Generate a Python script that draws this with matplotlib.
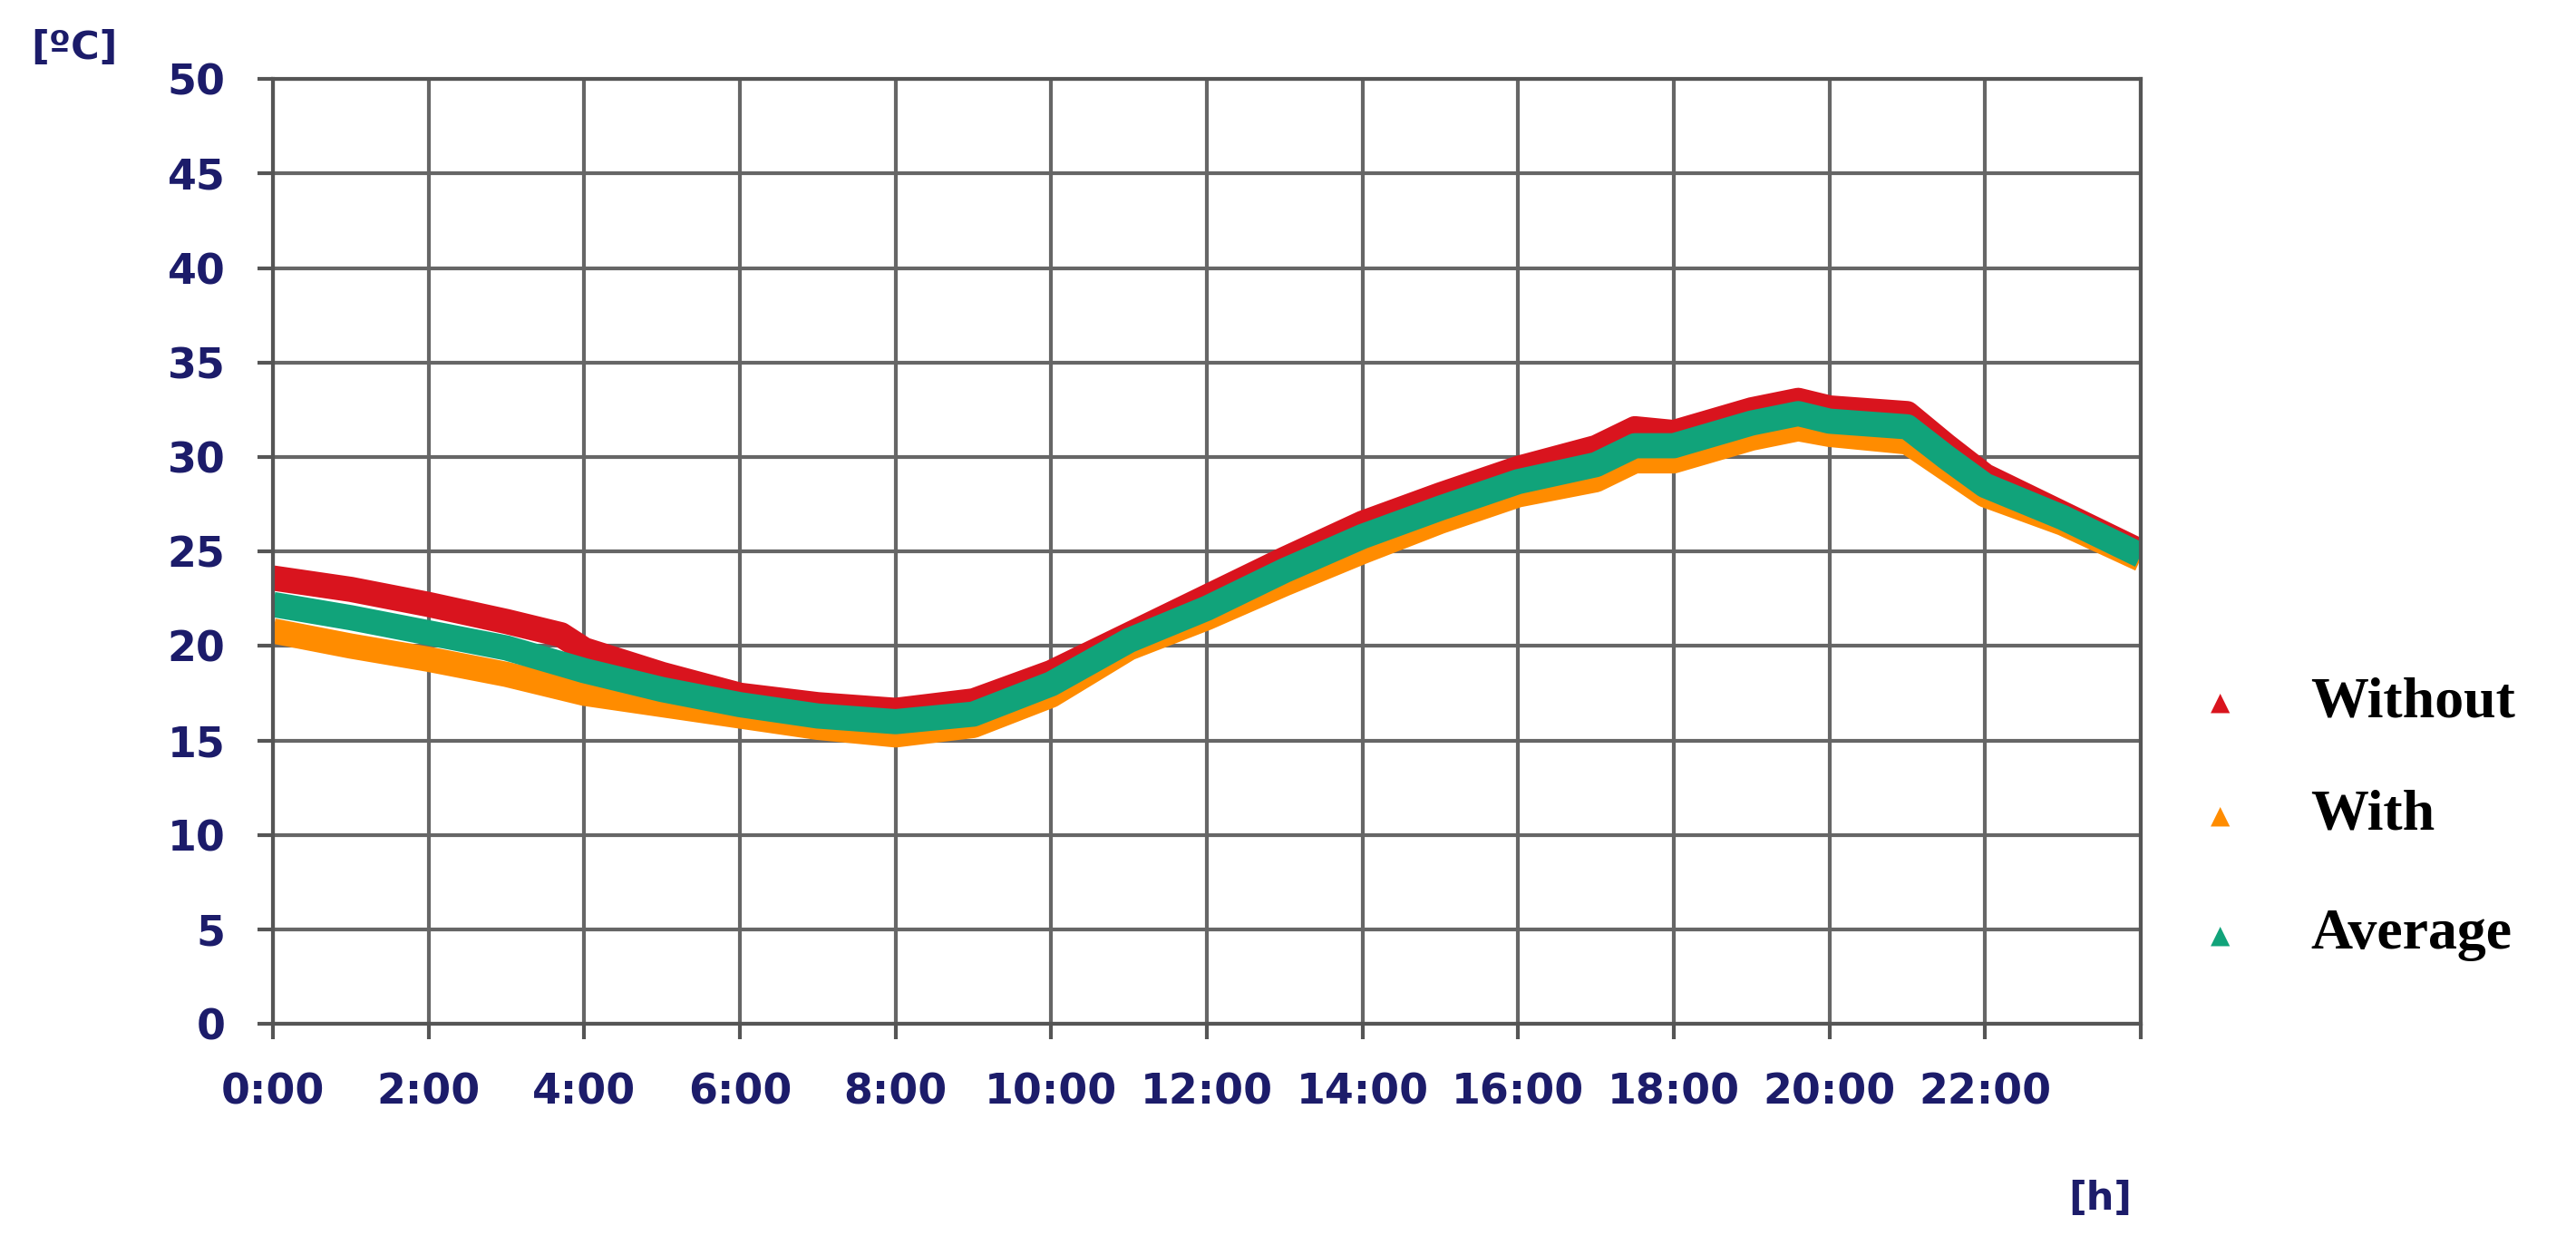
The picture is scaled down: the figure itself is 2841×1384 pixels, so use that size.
import matplotlib
matplotlib.use("Agg")
import matplotlib.pyplot as plt
import numpy as np

hours_without = [0, 1, 2, 3, 3.7, 4, 5, 6, 7, 8, 9, 10, 11, 12, 13, 14, 15, 16, 17, 17.5, 18, 19, 19.6, 20, 21, 21.5, 22, 23, 24]
temp_without = [23.6, 23.0, 22.2, 21.3, 20.6, 19.8, 18.5, 17.4, 16.9, 16.6, 17.1, 18.6, 20.6, 22.6, 24.6, 26.5, 28.0, 29.4, 30.5, 31.5, 31.3, 32.5, 33.0, 32.6, 32.3, 30.6, 29.0, 27.0, 25.0]
hours_with = [0, 1, 2, 3, 4, 5, 6, 7, 8, 9, 10, 11, 12, 13, 14, 15, 16, 17, 17.5, 18, 19, 19.6, 20, 21, 21.5, 22, 23, 24]
temp_with = [20.8, 20.0, 19.3, 18.5, 17.5, 16.9, 16.3, 15.7, 15.3, 15.8, 17.4, 19.9, 21.5, 23.3, 25.0, 26.6, 28.0, 28.8, 29.8, 29.8, 31.0, 31.5, 31.2, 30.8, 29.4, 28.0, 26.5, 24.6]
hours_avg = [0, 1, 2, 3, 4, 5, 6, 7, 8, 9, 10, 11, 12, 13, 14, 15, 16, 17, 17.5, 18, 19, 19.6, 20, 21, 21.5, 22, 23, 24]
temp_avg = [22.2, 21.5, 20.7, 19.9, 18.7, 17.7, 16.9, 16.3, 16.0, 16.4, 18.0, 20.3, 22.0, 24.0, 25.8, 27.3, 28.7, 29.6, 30.6, 30.6, 31.8, 32.3, 31.9, 31.6, 30.0, 28.5, 26.8, 24.8]

series_names = ["Without", "With", "Average"]
colors = ["#d9141e", "#ff8c00", "#11a37a"]
xtick_labels = ["0:00", "2:00", "4:00", "6:00", "8:00", "10:00", "12:00", "14:00", "16:00", "18:00", "20:00", "22:00"]
yticks = list(range(0, 55, 5))

fig = plt.figure(figsize=(28.41, 13.84), dpi=100)
ax = fig.add_axes([0.106, 0.184, 0.725, 0.753])
ax.set_xlim(0, 24)
ax.set_ylim(0, 50)
ax.set_xticks(range(0, 26, 2))
ax.set_yticks(yticks)
ax.grid(True, color="#666666", linewidth=3)
for s in ax.spines.values():
    s.set_color("#555555"); s.set_linewidth(3)
ax.tick_params(axis="x", length=12, width=3, color="#555555", pad=26)
ax.tick_params(axis="y", length=12, width=3, color="#555555", pad=26)
ax.set_xticklabels(xtick_labels + [""], fontsize=33, fontweight="bold", color="#1c1c6a")
ax.set_yticklabels([str(v) for v in yticks], fontsize=33, fontweight="bold", color="#1c1c6a")

ax.plot(hours_without, temp_without, color=colors[0], linewidth=20, solid_capstyle="butt")
ax.plot(hours_with, temp_with, color=colors[1], linewidth=20, solid_capstyle="butt")
ax.plot(hours_avg, temp_avg, color=colors[2], linewidth=20, solid_capstyle="butt")

fig.text(0.012, 0.962, "[ºC]", fontsize=31, fontweight="bold", color="#1c1c6a", va="center")
fig.text(0.803, 0.045, "[h]", fontsize=31, fontweight="bold", color="#1c1c6a", va="center")

leg_y = [0.44, 0.35, 0.255]
for name, c, y in zip(series_names, colors, leg_y):
    fig.text(0.862, y, "▲", color=c, fontsize=20, ha="center", va="center")
    fig.text(0.897, y, name, fontsize=46, fontweight="bold", family="Liberation Serif", va="center")

fig.savefig("out.png", dpi=100)
